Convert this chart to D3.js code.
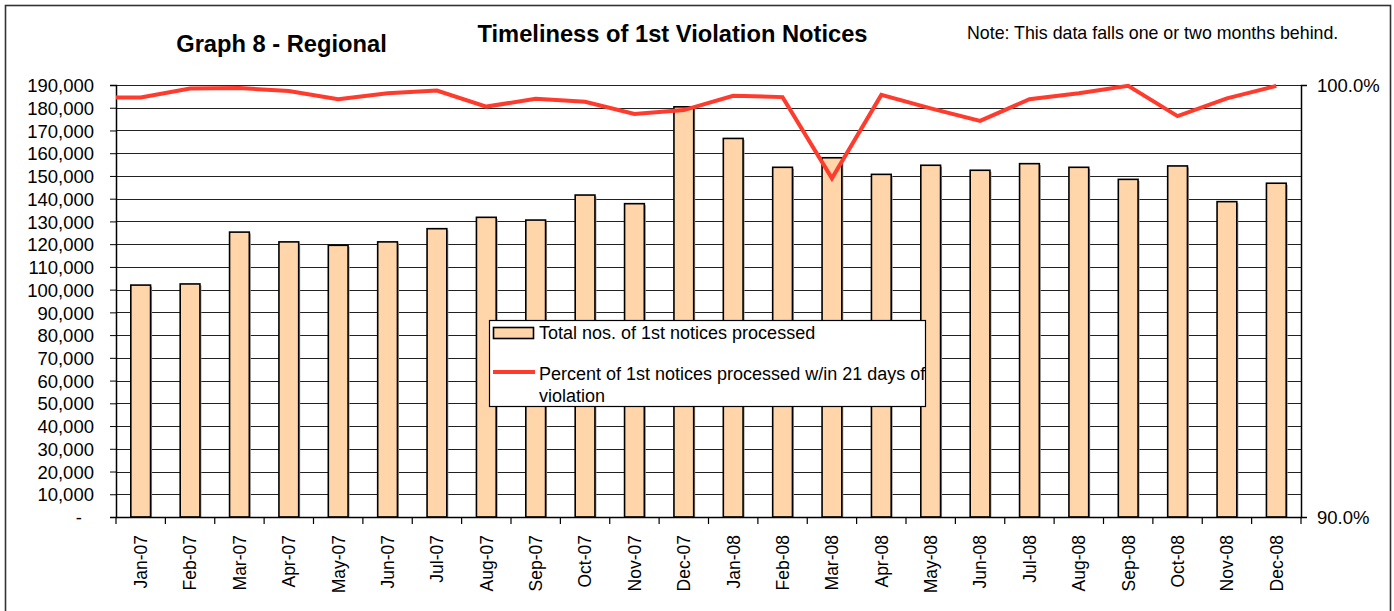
<!DOCTYPE html>
<html>
<head>
<meta charset="utf-8">
<script src="https://cdn.jsdelivr.net/npm/d3@7"></script>
<style>
  html, body { margin: 0; padding: 0; background: #fff; }
  svg { display: block; font-family: "Liberation Sans", Arial, sans-serif; }
</style>
</head>
<body>
<svg id="chart" width="1394" height="611"></svg>
<script>
// ---- data ----
const months = ["Jan-07","Feb-07","Mar-07","Apr-07","May-07","Jun-07","Jul-07","Aug-07","Sep-07","Oct-07","Nov-07","Dec-07",
                "Jan-08","Feb-08","Mar-08","Apr-08","May-08","Jun-08","Jul-08","Aug-08","Sep-08","Oct-08","Nov-08","Dec-08"];
const totalNotices = [102000,102500,125300,121000,119500,121000,126800,131800,130600,141600,137800,180400,
                      166500,153800,158000,150700,154700,152500,155400,153800,148500,154400,138700,146800];
const pctWithin21 = [99.71,99.92,99.93,99.86,99.67,99.81,99.87,99.50,99.68,99.61,99.33,99.42,
                     99.75,99.72,97.84,99.77,99.46,99.17,99.67,99.81,99.98,99.28,99.69,99.98];
const leftTicks = [0,10000,20000,30000,40000,50000,60000,70000,80000,90000,100000,110000,120000,130000,140000,150000,160000,170000,180000,190000];
const rightTicks = [90,100];
const seriesNames = ["Total nos. of 1st notices processed", "Percent of 1st notices processed w/in 21 days of", "violation"];

// ---- layout ----
const svg = d3.select("#chart");
const L = 116, R = 1301, T = 85, B = 517;
const barFill = "#FFD5A9", lineColor = "#FF3B2E";

svg.append("rect").attr("x",0).attr("y",0).attr("width",1394).attr("height",611).attr("fill","#fff");
svg.append("rect").attr("x",5.5).attr("y",5.5).attr("width",1385).attr("height",640)
   .attr("fill","none").attr("stroke","#333").attr("stroke-width",1.6);

const x = d3.scaleBand().domain(months).range([L, R]).paddingInner(0.6).paddingOuter(0.3);
const xCenter = m => x(m) + x.bandwidth()/2;
const y = d3.scaleLinear().domain([0,190000]).range([B, T]);
const y2 = d3.scaleLinear().domain([90,100]).range([B, T]);

// gridlines
svg.append("g").selectAll("line").data(leftTicks.filter(d => d > 0)).join("line")
  .attr("x1", L).attr("x2", R)
  .attr("y1", d => Math.round(y(d)) + 0.5).attr("y2", d => Math.round(y(d)) + 0.5)
  .attr("stroke", "#222").attr("stroke-width", 1);

// bars (shadow + bar)
const bars = svg.append("g");
bars.selectAll("rect.sh").data(months).join("rect").attr("class","sh")
  .attr("x", m => x(m) + 1.5).attr("y", (m,i) => y(totalNotices[i]) + 1.5)
  .attr("width", x.bandwidth()).attr("height", (m,i) => B - y(totalNotices[i]) - 1.5)
  .attr("fill", "#9a9a9a");
bars.selectAll("rect.b").data(months).join("rect").attr("class","b")
  .attr("x", m => x(m)).attr("y", (m,i) => y(totalNotices[i]))
  .attr("width", x.bandwidth()).attr("height", (m,i) => B - y(totalNotices[i]))
  .attr("fill", barFill).attr("stroke", "#000").attr("stroke-width", 1.6);

// left axis
const yAxis = d3.axisLeft(y).tickValues(leftTicks).tickSize(6).tickPadding(16)
  .tickFormat(d => d === 0 ? "-" : d3.format(",")(d));
const gy = svg.append("g").attr("transform", `translate(${L},0)`).call(yAxis);
gy.select(".domain").attr("stroke","#000").attr("stroke-width",1.5);
gy.selectAll(".tick line").attr("stroke","#000");
gy.selectAll(".tick text").attr("font-size", 18.5).attr("fill","#000").attr("dy","0.36em")
  .attr("font-family", '"Liberation Sans", Arial, sans-serif')
  .filter(d => d === 0).attr("dx", -12);

// right axis
const y2Axis = d3.axisRight(y2).tickValues(rightTicks).tickSize(6).tickPadding(10)
  .tickFormat(d => d3.format(".1f")(d) + "%");
const gy2 = svg.append("g").attr("transform", `translate(${R},0)`).call(y2Axis);
gy2.select(".domain").attr("stroke","#000").attr("stroke-width",1.5);
gy2.selectAll(".tick line").attr("stroke","#000");
gy2.selectAll(".tick text").attr("font-size", 18.5).attr("fill","#000").attr("dy","0.36em")
  .attr("font-family", '"Liberation Sans", Arial, sans-serif');

// bottom axis
const xAxis = d3.axisBottom(x).tickSize(0).tickPadding(0);
const gx = svg.append("g").attr("transform", `translate(0,${B})`).call(xAxis);
gx.select(".domain").attr("stroke","#000").attr("stroke-width",1.5);
gx.selectAll(".tick text").attr("font-size", 17.5).attr("fill","#000")
  .attr("font-family", '"Liberation Sans", Arial, sans-serif')
  .attr("transform", "rotate(-90)").attr("text-anchor","end")
  .attr("x", -18).attr("y", 0).attr("dy", "0.36em");
// category boundary ticks
const step = x.step();
const bounds = d3.range(months.length + 1).map(i => x.range()[0] + i * step);
svg.append("g").selectAll("line").data(bounds).join("line")
  .attr("x1", d => d).attr("x2", d => d).attr("y1", B).attr("y2", B + 7)
  .attr("stroke","#000").attr("stroke-width",1.2);

// line
const linePts = [[x.range()[0], y2(pctWithin21[0])]].concat(months.map((m,i) => [xCenter(m), y2(pctWithin21[i])]));
svg.append("path").datum(linePts)
  .attr("d", d3.line())
  .attr("fill","none").attr("stroke", lineColor).attr("stroke-width", 4).attr("stroke-linejoin","miter");

// titles
svg.append("text").attr("x", 281.5).attr("y", 52).attr("text-anchor","middle")
  .attr("font-size", 23.7).attr("font-weight","bold").text("Graph 8 - Regional");
svg.append("text").attr("x", 672.5).attr("y", 42).attr("text-anchor","middle")
  .attr("font-size", 23.7).attr("font-weight","bold").text("Timeliness of 1st Violation Notices");
svg.append("text").attr("x", 967).attr("y", 39).attr("text-anchor","start")
  .attr("font-size", 17.8).text("Note: This data falls one or two months behind.");

// legend
const lg = svg.append("g");
lg.append("rect").attr("x", 489.5).attr("y", 320.5).attr("width", 436).attr("height", 86)
  .attr("fill","#fff").attr("stroke","#000").attr("stroke-width",1.2);
lg.append("rect").attr("x", 493.5).attr("y", 327.5).attr("width", 40).attr("height", 11)
  .attr("fill", barFill).attr("stroke","#000").attr("stroke-width",1.6);
lg.append("line").attr("x1", 493).attr("x2", 535).attr("y1", 372).attr("y2", 372)
  .attr("stroke", lineColor).attr("stroke-width", 4);
lg.append("text").attr("x", 539).attr("y", 339).attr("font-size", 18).text(seriesNames[0]);
lg.append("text").attr("x", 539).attr("y", 380).attr("font-size", 18).text(seriesNames[1]);
lg.append("text").attr("x", 539).attr("y", 402).attr("font-size", 18).text(seriesNames[2]);
</script>
</body>
</html>
